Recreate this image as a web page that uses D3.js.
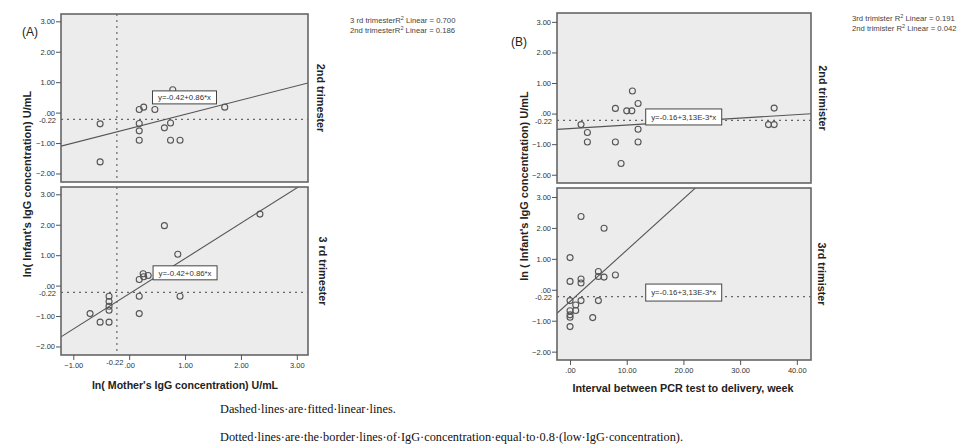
<!DOCTYPE html>
<html><head><meta charset="utf-8">
<script src="https://cdn.jsdelivr.net/npm/d3@7"></script>
<style>
html,body{margin:0;padding:0;background:#fff;}
svg{display:block;font-family:"Liberation Sans",Arial,sans-serif;}
</style></head>
<body><svg id="c" width="959" height="447"></svg>
<script>
// ---------- data ----------
const yTicks = [-2, -1, 0, 1, 2, 3];
const xTicksA = [-1, 0, 1, 2, 3];
const xTicksB = [0, 10, 20, 30, 40];
const cutoff = -0.22;

// Panel A: mother's ln IgG vs infant's ln IgG
const aX2nd = [-0.52, -0.52, 0.18, 0.26, 0.18, 0.18, 0.18, 0.46, 0.78, 0.63, 0.74, 0.74, 0.91, 1.71];
const aY2nd = [-0.37, -1.62, 0.10, 0.18, -0.36, -0.60, -0.91, 0.10, 0.75, -0.50, -0.34, -0.91, -0.91, 0.18];
const aX3rd = [-0.70, -0.52, -0.36, -0.36, -0.36, -0.36, -0.36, 0.18, 0.18, 0.18, 0.25, 0.26, 0.34, 0.63, 0.87, 0.91, 2.34];
const aY3rd = [-0.92, -1.20, -1.20, -0.35, -0.52, -0.68, -0.81, 0.20, -0.35, -0.92, 0.39, 0.29, 0.33, 1.97, 1.03, -0.35, 2.35];

// Panel B: interval PCR -> delivery (weeks) vs infant's ln IgG
const bX2nd = [1.94, 3.06, 3.06, 8.0, 8.0, 9.0, 10.0, 10.9, 11.0, 12.0, 12.0, 12.0, 35.0, 36.0, 36.0];
const bY2nd = [-0.36, -0.62, -0.93, 0.17, -0.93, -1.63, 0.09, 0.09, 0.74, 0.33, -0.51, -0.93, -0.36, -0.36, 0.18];
const bX3rd = [1.94, 6.0, 0, 0, 1.94, 1.94, 5.0, 5.0, 6.0, 8.0, 0, 1.94, 5.0, 1.0, 1.0, 0, 0, 0, 4.0, 0];
const bY3rd = [2.37, 1.99, 1.04, 0.27, 0.35, 0.22, 0.59, 0.43, 0.41, 0.48, -0.35, -0.35, -0.35, -0.49, -0.67, -0.68, -0.81, -0.89, -0.90, -1.19];

// fitted lines as drawn: [intercept, slope]
const aFit2nd = [-0.53, 0.47];
const aFit3rd = [-0.27, 1.16];
const bFit2nd = [-0.49, 0.0114];
const bFit3rd = [-0.38, 0.166];

const eqA = "y=-0.42+0.86*x";
const eqB = "y=-0.16+3,13E-3*x";
const stripA = ["2nd trimester", "3 rd trimester"];
const stripB = ["2nd trimister", "3rd trimister"];
const legendA = [["3 rd trimesterR", " Linear = 0.700"], ["2nd trimesterR", " Linear = 0.186"]];
const legendB = [["3rd trimister R", " Linear = 0.191"], ["2nd trimister R", " Linear = 0.042"]];
const yTitleA = "ln( Infant's IgG concentration) U/mL";
const yTitleB = "ln ( Infant's IgG concentration) U/mL";
const xTitleA = "ln( Mother's IgG concentration) U/mL";
const xTitleB = "Interval between PCR test to delivery, week";
const notes = ["Dashed·lines·are·fitted·linear·lines.",
  "Dotted·lines·are·the·border·lines·of·IgG·concentration·equal·to·0.8·(low·IgG·concentration)."];

// ---------- drawing ----------
const svg = d3.select("#c");
const fmt = v => v === 0 ? ".00" : d3.format(".2f")(v);
let clipId = 0;

function panel(o) {
  const x = d3.scaleLinear().domain(o.xd).range(o.xr);
  const y = d3.scaleLinear().domain(o.yd).range([o.yr[1], o.yr[0]]);
  const g = svg.append("g");
  const id = "clip" + (clipId++);
  g.append("clipPath").attr("id", id).append("rect")
    .attr("x", o.xr[0]).attr("y", o.yr[0]).attr("width", o.xr[1] - o.xr[0]).attr("height", o.yr[1] - o.yr[0]);
  g.append("rect").attr("x", o.xr[0]).attr("y", o.yr[0])
    .attr("width", o.xr[1] - o.xr[0]).attr("height", o.yr[1] - o.yr[0])
    .attr("fill", "#ececec");
  const inner = g.append("g").attr("clip-path", `url(#${id})`);
  // dotted reference lines
  inner.append("line").attr("x1", o.xr[0]).attr("x2", o.xr[1])
    .attr("y1", y(cutoff)).attr("y2", y(cutoff))
    .attr("stroke", "#666").attr("stroke-width", 1.2).attr("stroke-dasharray", "2,4");
  if (o.vline) {
    inner.append("line").attr("x1", x(cutoff)).attr("x2", x(cutoff))
      .attr("y1", o.yr[0]).attr("y2", o.yr[1])
      .attr("stroke", "#666").attr("stroke-width", 1.2).attr("stroke-dasharray", "2,4");
  }
  // fit line
  inner.append("line")
    .attr("x1", x(o.xd[0])).attr("y1", y(o.fit[0] + o.fit[1] * o.xd[0]))
    .attr("x2", x(o.xd[1])).attr("y2", y(o.fit[0] + o.fit[1] * o.xd[1]))
    .attr("stroke", "#555").attr("stroke-width", 1.1);
  // points
  inner.selectAll("circle").data(o.xs.map((v, i) => [v, o.ys[i]])).join("circle")
    .attr("cx", d => x(d[0])).attr("cy", d => y(d[1])).attr("r", 3)
    .attr("fill", "none").attr("stroke", "#555").attr("stroke-width", 1.1);
  // equation box
  const bx = x(o.eqPos[0]), by = y(o.eqPos[1]);
  g.append("rect").attr("x", bx - o.eqW / 2).attr("y", by - o.eqH / 2)
    .attr("width", o.eqW).attr("height", o.eqH)
    .attr("fill", "#fff").attr("stroke", "#444").attr("stroke-width", 1);
  g.append("text").attr("x", bx).attr("y", by + 2.8).attr("text-anchor", "middle")
    .attr("font-size", 7.8).attr("fill", "#333").text(o.eq);
  // frame
  g.append("rect").attr("x", o.xr[0]).attr("y", o.yr[0])
    .attr("width", o.xr[1] - o.xr[0]).attr("height", o.yr[1] - o.yr[0])
    .attr("fill", "none").attr("stroke", "#666").attr("stroke-width", 1.6);
  // y axis
  const ya = g.append("g").attr("transform", `translate(${o.xr[0]},0)`)
    .call(d3.axisLeft(y).tickValues(yTicks).tickFormat(fmt).tickSize(5).tickPadding(1));
  ya.select(".domain").remove();
  ya.selectAll("line").attr("stroke", "#555");
  ya.selectAll("text").attr("font-size", 7.5).attr("fill", "#333").attr("font-family", null);
  g.append("text").attr("x", o.xr[0] - 5).attr("y", y(cutoff) + 3.5).attr("text-anchor", "end")
    .attr("font-size", 7.5).attr("fill", "#333").text(cutoff.toFixed(2));
  // x axis
  if (o.xt) {
    const xa = g.append("g").attr("transform", `translate(0,${o.yr[1]})`)
      .call(d3.axisBottom(x).tickValues(o.xt).tickFormat(fmt).tickSize(5).tickPadding(3));
    xa.select(".domain").remove();
    xa.selectAll("line").attr("stroke", "#555");
    xa.selectAll("text").attr("font-size", 7.5).attr("fill", "#333").attr("font-family", null);
    if (o.vline) {
      g.append("text").attr("x", x(cutoff) - 2).attr("y", o.yr[1] + 10).attr("text-anchor", "middle")
        .attr("font-size", 7.5).attr("fill", "#333").text(cutoff.toFixed(2));
    }
  }
  // strip label
  const sy = (o.yr[0] + o.yr[1]) / 2;
  g.append("text").attr("transform", `translate(${o.stripX},${sy}) rotate(90)`)
    .attr("text-anchor", "middle").attr("font-weight", "bold").attr("font-size", 10.8)
    .attr("fill", "#222").text(o.strip);
}

// Panel A
const AX = [61, 308], AXD = [-1.22, 3.2], AYD = [-2.28, 3.24];
panel({xr: AX, xd: AXD, yr: [14, 182], yd: AYD, xs: aX2nd, ys: aY2nd, fit: aFit2nd,
  vline: true, eq: eqA, eqPos: [0.99, 0.5], eqW: 64, eqH: 13, strip: stripA[0], stripX: 317});
panel({xr: AX, xd: AXD, yr: [187, 355], yd: AYD, xs: aX3rd, ys: aY3rd, fit: aFit3rd,
  vline: true, xt: xTicksA, eq: eqA, eqPos: [1.0, 0.42], eqW: 64, eqH: 14, strip: stripA[1], stripX: 319});

// Panel B
const BX = [557, 811], BXD = [-2.3, 42.5], BYD = [-2.27, 3.29];
panel({xr: BX, xd: BXD, yr: [13, 183], yd: BYD, xs: bX2nd, ys: bY2nd, fit: bFit2nd,
  vline: false, eq: eqB, eqPos: [20.05, -0.11], eqW: 76, eqH: 16, strip: stripB[0], stripX: 819});
panel({xr: BX, xd: BXD, yr: [188, 360], yd: BYD, xs: bX3rd, ys: bY3rd, fit: bFit3rd,
  vline: false, xt: xTicksB, eq: eqB, eqPos: [20.05, -0.09], eqW: 76, eqH: 17, strip: stripB[1], stripX: 818});

// titles
svg.append("text").attr("transform", "translate(31,184) rotate(-90)").attr("text-anchor", "middle")
  .attr("font-weight", "bold").attr("font-size", 11).attr("fill", "#222").text(yTitleA);
svg.append("text").attr("transform", "translate(528,186) rotate(-90)").attr("text-anchor", "middle")
  .attr("font-weight", "bold").attr("font-size", 11).attr("fill", "#222").text(yTitleB);
svg.append("text").attr("x", 185).attr("y", 389).attr("text-anchor", "middle")
  .attr("font-weight", "bold").attr("font-size", 10.6).attr("fill", "#222").text(xTitleA);
svg.append("text").attr("x", 683).attr("y", 392).attr("text-anchor", "middle")
  .attr("font-weight", "bold").attr("font-size", 10.8).attr("fill", "#222").text(xTitleB);

svg.append("text").attr("x", 22).attr("y", 36).attr("font-size", 12).attr("fill", "#222").text("(A)");
svg.append("text").attr("x", 511).attr("y", 46).attr("font-size", 12).attr("fill", "#222").text("(B)");

// legends
function legend(x0, y0, rows) {
  rows.forEach((r, i) => {
    const t = svg.append("text").attr("x", x0).attr("y", y0 + i * 10).attr("font-size", 7.7).attr("fill", "#444");
    t.append("tspan").text(r[0]);
    t.append("tspan").attr("dy", -3).attr("font-size", 5.5).text("2");
    t.append("tspan").attr("dy", 3).text(r[1]);
  });
}
legend(350, 23, legendA);
legend(852, 21, legendB);

// notes
notes.forEach((n, i) => {
  svg.append("text").attr("x", 220).attr("y", 413 + i * 28)
    .attr("font-family", "'Liberation Serif','Times New Roman',serif")
    .attr("font-size", 12.3).attr("fill", "#111").text(n);
});
</script></body></html>
